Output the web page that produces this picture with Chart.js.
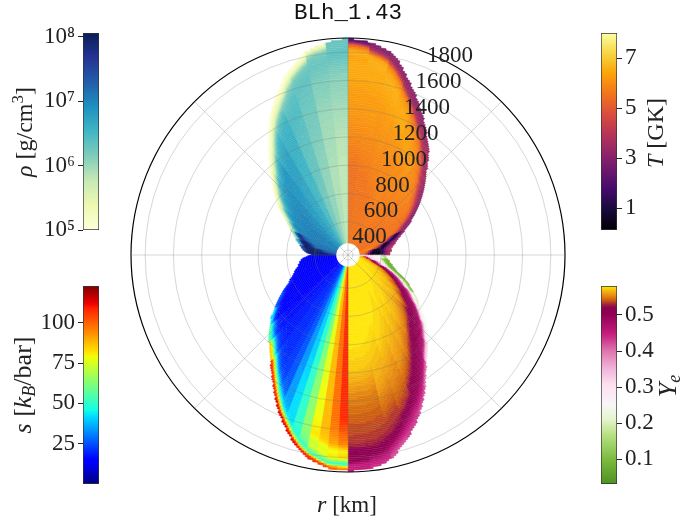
<!DOCTYPE html>
<html><head><meta charset="utf-8">
<style>html,body{margin:0;padding:0;background:#fff;width:684px;height:522px;overflow:hidden}canvas{position:absolute}</style>
<script src="https://cdn.jsdelivr.net/npm/chart.js@4"></script>
</head><body>
<canvas id="polar" width="684" height="522" style="left:0;top:0"></canvas>
<canvas id="cbRho" width="120" height="230" style="left:0;top:20px"></canvas>
<canvas id="cbS" width="120" height="230" style="left:0;top:275px"></canvas>
<canvas id="cbT" width="104" height="230" style="left:580px;top:20px"></canvas>
<canvas id="cbYe" width="104" height="230" style="left:580px;top:275px"></canvas>
<script>
// ---------- values ----------
const polarTicks = [400,600,800,1000,1200,1400,1600,1800];
// lobe outline in km, every 1.5 degrees away from the vertical axis
const outlineT = [1695,1692,1688,1682,1672,1660,1650,1636,1618,1590,1555,1520,1484,1450,1419,1387,1355,1323,1292,1262,
1233,1204,1171,1142,1118,1088,1053,1019,987,957,929,902,877,854,833,811,785,760,736,711,
686,663,642,621,600,580,563,547,533,520,510,499,488,481,478,474,471,467,464,460];
const outlineRho = [1695,1691,1684,1676,1669,1661,1654,1640,1620,1596,1571,1546,1522,1490,1450,1417,1389,1359,1327,1291,
1252,1213,1175,1137,1102,1069,1037,1005,978,950,922,894,865,839,814,789,764,740,715,690,
669,651,634,617,603,589,575,561,552,541,531,521,510,501,494,486,476,462,445,425];
const outlineYe = [1695,1692,1688,1685,1682,1676,1662,1645,1628,1600,1572,1545,1516,1486,1454,1421,1385,1350,1315,1278,
1234,1194,1158,1125,1094,1065,1040,1015,990,966,941,916,891,865,837,810,785,762,741,719,
694,670,650,628,607,582,554,533,519,506,495,484,474,466,458,451,445,438,431,425];
const outlineS = [1688,1686,1686,1684,1672,1658,1643,1628,1610,1587,1558,1527,1492,1458,1426,1393,1358,1320,1282,1245,
1209,1175,1143,1111,1079,1052,1031,1010,989,967,947,924,899,875,850,823,794,768,743,719,
694,669,644,625,611,597,582,570,559,549,538,528,522,515,509,501,494,480,460,440];
// depth below the outline (km) that each column of the tables stands for
const depthMid = [12,37,62,87,125,175,250,350,500,700,900];
// wedge upper angle (deg from the vertical axis)
const thetaCommon = [6,12,18,24,30,36,42,48,54,60,66,72,78,84,90];
const thetaS = [3,6,9,12,15,18,21,24,27,30,36,42,48,54,60,66,72,78,84,90];
const valuesT = [
[2.2,5.0,6.0,6.6,6.4,6.5,6.5,6.3,6.2,5.9,5.5],
[3.0,3.5,5.2,6.4,6.6,6.5,6.5,6.3,6.2,5.9,5.6],
[3.2,3.3,4.5,5.8,6.4,6.6,6.5,6.3,6.1,5.9,5.6],
[3.2,3.3,3.8,5.5,6.2,6.5,6.5,6.2,6.0,5.8,5.6],
[3.2,3.4,3.8,5.2,6.0,6.3,6.4,6.1,5.9,5.8,5.6],
[3.4,3.6,4.0,5.3,5.9,6.2,6.2,6.0,5.8,5.7,5.6],
[3.6,3.7,4.0,5.2,5.8,6.0,6.0,5.8,5.7,5.6,5.6],
[3.5,3.7,4.2,5.3,5.8,5.9,5.8,5.7,5.6,5.6,5.5],
[3.3,3.6,4.2,5.2,5.7,5.7,5.7,5.6,5.5,5.5,5.5],
[3.0,3.5,4.3,5.3,5.6,5.6,5.6,5.5,5.5,5.5,5.5],
[3.2,3.3,4.0,5.2,5.6,5.6,5.6,5.5,5.5,5.5,5.5],
[3.4,1.5,0.8,3.0,5.5,5.6,5.6,5.5,5.5,5.5,5.5],
[3.6,3.0,1.0,0.6,4.5,5.8,5.8,5.6,5.5,5.5,5.5],
[3.8,3.2,1.5,0.5,0.5,5.5,6.0,6.0,5.5,5.5,5.5],
[3.6,2.8,1.0,0.4,0.3,5.5,6.2,6.3,5.5,5.5,5.5]];
const valuesRho = [ // log10 of density
[6.3,6.3,6.3,6.35,6.3,6.2,6.1,6.05,5.95,5.85,5.8],
[5.3,5.9,6.2,6.25,6.3,6.25,6.15,6.1,6.0,5.95,5.9],
[5.1,5.4,5.9,6.2,6.3,6.35,6.3,6.25,6.2,6.1,6.05],
[5.1,5.3,5.7,6.1,6.3,6.4,6.45,6.4,6.35,6.3,6.2],
[5.1,5.3,5.6,6.05,6.4,6.55,6.6,6.6,6.55,6.5,6.45],
[5.1,5.3,5.7,6.15,6.55,6.65,6.75,6.75,6.7,6.65,6.6],
[5.1,5.4,5.8,6.35,6.65,6.85,6.85,6.85,6.8,6.75,6.7],
[5.1,5.5,6.0,6.55,6.75,6.9,6.95,6.95,6.9,6.85,6.8],
[5.2,5.7,6.3,6.65,6.85,6.95,7.0,7.0,6.95,6.9,6.9],
[5.4,6.0,6.6,6.85,6.95,7.0,7.05,7.05,7.0,6.95,6.95],
[5.6,6.3,6.9,7.0,7.0,7.05,7.05,7.0,7.0,7.0,7.0],
[5.9,7.4,7.9,7.3,7.1,7.1,7.1,7.1,7.05,7.05,7.05],
[6.5,7.9,8.0,7.8,7.2,7.15,7.15,7.1,7.1,7.1,7.1],
[7.5,8.0,8.0,7.9,7.8,7.3,7.2,7.2,7.2,7.2,7.2],
[7.8,8.0,8.0,8.0,7.9,7.6,7.3,7.3,7.3,7.3,7.3]];
const valuesYe = [
[.45,.45,.50,.50,.515,.53,.535,.54,.55,.57,.58],
[.44,.45,.47,.50,.52,.53,.535,.54,.55,.57,.58],
[.42,.44,.46,.49,.52,.53,.535,.545,.56,.57,.58],
[.43,.44,.46,.48,.51,.53,.54,.55,.56,.575,.58],
[.42,.45,.47,.49,.50,.52,.54,.555,.565,.575,.58],
[.40,.46,.48,.49,.50,.52,.545,.56,.57,.58,.58],
[.32,.44,.48,.49,.50,.515,.55,.565,.575,.58,.58],
[.26,.40,.47,.49,.50,.52,.55,.565,.575,.58,.58],
[.24,.32,.46,.49,.50,.53,.56,.57,.58,.58,.58],
[.20,.28,.42,.48,.50,.54,.565,.575,.58,.58,.58],
[.10,.20,.32,.46,.50,.55,.57,.58,.58,.58,.58],
[.08,.12,.27,.45,.50,.56,.575,.58,.58,.58,.58],
[.08,.10,.24,.30,.45,.56,.58,.58,.58,.58,.58],
[.08,.12,.24,.27,.30,.56,.58,.58,.58,.58,.58],
[.15,.26,.27,.28,.30,.30,.30,.30,.30,.30,.30]];
const valuesS = [
[95,45,70,85,80,95,100,108,108,108,108],
[100,48,68,82,78,90,95,98,98,98,98],
[105,50,65,78,75,85,88,88,88,88,88],
[108,52,62,75,72,82,80,78,78,76,76],
[110,60,50,58,62,64,64,64,63,62,60],
[112,65,48,48,50,50,50,50,50,49,48],
[112,70,45,42,42,42,42,42,41,40,40],
[112,72,45,38,35,34,34,34,33,33,32],
[112,75,50,38,28,26,25,25,25,25,25],
[110,78,52,36,25,22,22,22,22,22,22],
[108,78,50,32,23,21,20,20,20,20,20],
[85,58,36,26,20,19,18,18,18,18,18],
[55,40,28,20,18,17,17,17,17,17,17],
[42,24,18,16,16,16,15,15,15,15,15],
[25,18,15,14,14,14,14,14,14,14,14],
[20,15,13,13,13,13,13,13,13,13,13],
[16,13,13,13,13,13,13,13,13,13,13],
[14,13,13,12,12,12,12,12,12,12,12],
[14,13,12,12,12,12,12,12,12,12,12],
[14,12,12,12,12,12,12,12,12,12,12]];
const ticksRho = [1e5,1e6,1e7,1e8];
const ticksS = [25,50,75,100];
const ticksT = [1,3,5,7];
const ticksYe = [0.1,0.2,0.3,0.4,0.5];

// ---------- colour maps ----------
const YLGNBU = [[0,'#ffffd9'],[.125,'#edf8b1'],[.25,'#c7e9b4'],[.375,'#7fcdbb'],[.5,'#41b6c4'],[.625,'#1d91c0'],[.75,'#225ea8'],[.875,'#253494'],[1,'#081d58']];
const INFERNO = [[0,'#000004'],[.1,'#160b39'],[.2,'#420a68'],[.3,'#6a176e'],[.4,'#932667'],[.5,'#bc3754'],[.6,'#dd513a'],[.7,'#f37819'],[.8,'#fca50a'],[.9,'#f6d746'],[1,'#fcffa4']];
const JET = [[0,'#00007f'],[.11,'#0000ff'],[.125,'#0000ff'],[.34,'#00dbff'],[.375,'#13ffe5'],[.64,'#f0ff08'],[.66,'#ffea00'],[.89,'#ff1e00'],[.91,'#ee0000'],[1,'#7f0000']];
const YEMAP = [[0,'#4d9221'],[.13,'#7fbc41'],[.25,'#b8e186'],[.33,'#e6f5d0'],[.4,'#f7f7f7'],[.5,'#fde0ef'],[.58,'#f1b6da'],[.67,'#de77ae'],[.76,'#c51b7d'],[.86,'#8e0152'],[.895,'#8e0152'],[.93,'#d0620e'],[.96,'#ee9a10'],[1,'#ffe60a']];
function hex(c){return [1,3,5].map(i=>parseInt(c.substr(i,2),16));}
function cmap(m,t){
  t=Math.max(0,Math.min(1,t));
  for(let i=1;i<m.length;i++){ if(t<=m[i][0]){
    const a=hex(m[i-1][1]),b=hex(m[i][1]),f=(t-m[i-1][0])/(m[i][0]-m[i-1][0]);
    return 'rgb('+a.map((v,k)=>Math.round(v+(b[k]-v)*f)).join(',')+')';
  }}
  return m[m.length-1][1];
}
const rangeRho=[5,8.06], rangeS=[0,122.8], rangeT=[0.12,8.02], rangeYe=[0.032,0.58];
const fieldT  ={outline:outlineT,theta:thetaCommon,rows:valuesT,map:INFERNO,range:rangeT};
const fieldYe ={outline:outlineYe,theta:thetaCommon,rows:valuesYe,map:YEMAP,range:rangeYe};
const fieldS  ={outline:outlineS,theta:thetaS,rows:valuesS,map:JET,range:rangeS};
const fieldRho={outline:outlineRho,theta:thetaCommon,rows:valuesRho,map:YLGNBU,range:rangeRho};

// ---------- polar cells: one doughnut ring per radial bin; neighbouring equal cells share a slice ----------
const R_MIN=165,R_MAX=1700,R_HOLE=250,R_STEP=12.5,SECT=0.75,OUTLINE_STEP=1.5,LEVELS=140;
const PERQ=90/SECT, sectorCount=360/SECT, ringCount=(R_MAX-R_HOLE)/R_STEP;
const sectorLabels=[];
for(let i=0;i<sectorCount;i++){sectorLabels.push(String(i*SECT));}
const EMPTY='rgba(0,0,0,0)';
function edgeAt(o,th){
  const p=Math.max(0,Math.min(o.length-1,th/OUTLINE_STEP-.5)),i=Math.min(o.length-2,Math.floor(p));
  return o[i]+(o[i+1]-o[i])*(p-i);
}
function columnAt(row,d){
  if(d<=depthMid[0]) return row[0];
  for(let i=1;i<depthMid.length;i++){ if(d<=depthMid[i]){
    return row[i-1]+(row[i]-row[i-1])*(d-depthMid[i-1])/(depthMid[i]-depthMid[i-1]);
  }}
  return row[row.length-1];
}
function cellColor(sector,km){
  const q=Math.floor(sector/PERQ),k=sector%PERQ;
  const f=[fieldT,fieldYe,fieldS,fieldRho][q];
  const idx=(q%2===0)?k:PERQ-1-k;           // distance from the vertical axis
  const th=(idx+.5)*SECT;
  const edge=edgeAt(f.outline,th);
  if(km>edge) return EMPTY;
  const row=f.rows[f.theta.findIndex(u=>th<=u)];
  const t=(columnAt(row,edge-km)-f.range[0])/(f.range[1]-f.range[0]);
  return cmap(f.map,Math.round(t*LEVELS)/LEVELS);
}
const rings=[];
for(let r=0;r<ringCount;r++){
  const km=R_MAX-(r+.5)*R_STEP;
  const spans=[],cols=[];
  for(let s=0;s<sectorCount;s++){
    const c=cellColor(s,km);
    if(cols.length&&cols[cols.length-1]===c) spans[spans.length-1]+=SECT;
    else {cols.push(c);spans.push(SECT);}
  }
  rings.push({data:spans,backgroundColor:cols,borderColor:cols,borderWidth:0.5,hoverBorderWidth:0.5});
}

// ---------- mixed-style text helper ----------
const SERIF='"Liberation Serif","DejaVu Serif",serif';
function drawRuns(ctx,x,y,rot,runs){
  ctx.save();ctx.translate(x,y);ctx.rotate(rot);ctx.textBaseline='alphabetic';ctx.textAlign='left';ctx.fillStyle='#222';
  let w=0;
  const fontOf=r=>(r.i?'italic ':'')+(r.size||24)+'px '+SERIF;
  runs.forEach(r=>{ctx.font=fontOf(r);w+=ctx.measureText(r.t).width;});
  let p=-w/2;
  runs.forEach(r=>{ctx.font=fontOf(r);ctx.fillText(r.t,p,8+(r.dy||0));p+=ctx.measureText(r.t).width;});
  ctx.restore();
}
const runsPlugin={id:'runs',afterDraw(c,_,o){ if(o.runs) drawRuns(c.ctx,o.x,o.y,o.rot||0,o.runs); }};

// ---------- polar chart ----------
const polarLabels={id:'polarLabels',afterDraw(c){
  const s=c.scales.r,ctx=c.ctx;
  ctx.save();ctx.font='23px '+SERIF;ctx.fillStyle='#222';ctx.textAlign='center';ctx.textBaseline='middle';
  polarTicks.forEach(v=>{
    const p=s.getPointPosition(24/SECT,s.getDistanceFromCenterForValue(v));
    ctx.fillText(String(v),p.x+8,p.y+12.5);
  });
  ctx.restore();
}};
new Chart(document.getElementById('polar'),{
  type:'doughnut',
  data:{labels:sectorLabels,datasets:rings},
  plugins:[polarLabels,runsPlugin],
  options:{
    responsive:false,animation:false,devicePixelRatio:1,events:[],
    cutout:((R_HOLE-R_MIN)/(R_MAX-R_MIN)*100).toFixed(2)+'%',
    layout:{padding:{left:131,right:119,top:0,bottom:50}},
    plugins:{
      legend:{display:false},tooltip:{enabled:false},
      title:{display:true,text:'BLh_1.43',fullSize:false,color:'#111',
        font:{family:'"Liberation Mono","DejaVu Sans Mono",monospace',size:22.5,weight:'normal'},padding:{top:0,bottom:11}},
      runs:{x:347,y:504,rot:0,runs:[{t:'r',i:1},{t:' [km]',size:23}]}
    },
    scales:{r:{
      type:'radialLinear',min:R_MIN,max:R_MAX,
      afterBuildTicks(s){s.ticks=[R_MIN,200,400,600,800,1000,1200,1400,1600,R_MAX].map(value=>({value}));},
      ticks:{display:false},
      pointLabels:{display:false},
      grid:{circular:true,z:1,color:c=>c.tick&&c.tick.value===R_MAX?'#000':'rgba(110,110,110,0.28)',lineWidth:c=>c.tick&&c.tick.value===R_MAX?1.2:1},
      angleLines:{display:true,color:'rgba(110,110,110,0.28)',lineWidth:c=>c.index%(PERQ/2)===0?1:0},
      border:{display:false}
    }}
  }
});

// ---------- colour bars ----------
function colorBar(id,name,scaleType,lo,hi,ticks,label,map,side,top,bottom,title){
  const left=side==='left';
  const opts={
    responsive:false,animation:false,devicePixelRatio:1,events:[],
    layout:{padding:left?{left:0,right:21,top,bottom}:{left:21,right:0,top,bottom}},
    plugins:{legend:{display:false},tooltip:{enabled:false},runs:title},
    scales:{
      x:{display:false},
      y:{type:scaleType,position:side,min:lo,max:hi,
        afterFit(s){s.width=left?83:67;s.paddingTop=0;s.paddingBottom=0;},
        afterBuildTicks(s){s.ticks=ticks.map(value=>({value}));},
        grid:{drawOnChartArea:false,color:'#222',tickLength:5,tickWidth:1},
        border:{display:false},
        ticks:{autoSkip:false,padding:3,color:'#222',font:{family:SERIF,size:23},callback:label}
      }
    }
  };
  new Chart(document.getElementById(id),{
    type:'bar',
    data:{labels:[name],datasets:[{data:[[lo,hi]],barPercentage:1,categoryPercentage:1,
      borderColor:'rgba(0,0,0,.8)',borderWidth:1,borderSkipped:false,
      backgroundColor(c){
        const a=c.chart.chartArea; if(!a) return '#888';
        const g=c.chart.ctx.createLinearGradient(0,a.bottom,0,a.top);
        for(let i=0;i<=64;i++){g.addColorStop(i/64,cmap(map,i/64));}
        return g;
      }}]},
    plugins:[runsPlugin],
    options:opts
  });
}
const SUP={5:'⁵',6:'⁶',7:'⁷',8:'⁸'};
colorBar('cbRho','rho','logarithmic',1e5,Math.pow(10,rangeRho[1]),ticksRho,v=>'10'+SUP[Math.round(Math.log10(v))],YLGNBU,'left',13,20,
  {x:24,y:112,rot:-Math.PI/2,runs:[{t:'ρ',i:1},{t:' [g/cm'},{t:'3',size:17,dy:-9},{t:']'}]});
colorBar('cbS','s','linear',rangeS[0],rangeS[1],ticksS,v=>String(v),JET,'left',11,21,
  {x:23,y:110,rot:-Math.PI/2,runs:[{t:'s',i:1,size:26},{t:' [',size:26},{t:'k',i:1,size:26},{t:'B',i:1,size:18,dy:4},{t:'/bar]',size:26}]});
colorBar('cbT','T','linear',rangeT[0],rangeT[1],ticksT,v=>String(v),INFERNO,'right',13,20,
  {x:75,y:113,rot:-Math.PI/2,runs:[{t:'T',i:1},{t:' [GK]'}]});
colorBar('cbYe','Ye','linear',rangeYe[0],rangeYe[1],ticksYe,v=>v.toFixed(1),YEMAP,'right',11,21,
  {x:88,y:111,rot:-Math.PI/2,runs:[{t:'Y',i:1,size:26},{t:'e',i:1,size:18,dy:4}]});
</script>
</body></html>
